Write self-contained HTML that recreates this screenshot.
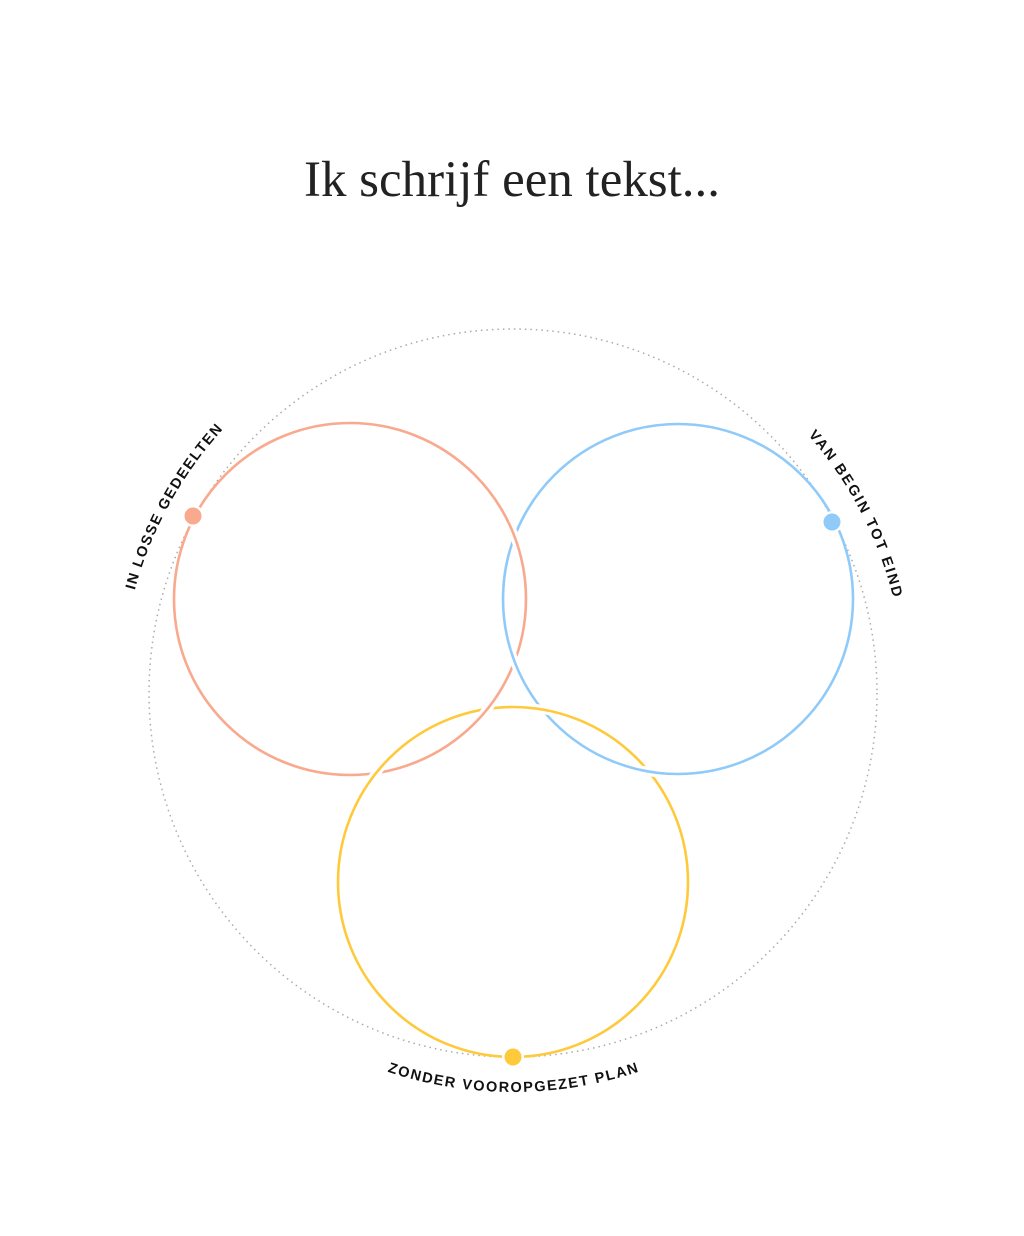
<!DOCTYPE html>
<html><head><meta charset="utf-8"><style>
html,body{margin:0;padding:0;background:#fff;}
svg{display:block}
</style></head><body>
<svg width="1024" height="1236" viewBox="0 0 1024 1236" xmlns="http://www.w3.org/2000/svg">
<defs>
<path id="pl" d="M 121 693 A 392 392 0 0 1 513 301"/>
<path id="pr" d="M 513 301 A 392 392 0 0 1 905 693"/>
<path id="pb" d="M 114 693 A 399 399 0 0 0 912 693"/>
<clipPath id="c1"><circle cx="514" cy="535" r="13"/></clipPath>
<clipPath id="c2"><circle cx="514" cy="663" r="13"/></clipPath>
<clipPath id="c3"><circle cx="488" cy="708" r="13"/></clipPath>
<clipPath id="c4"><circle cx="375" cy="773" r="13"/></clipPath>
<clipPath id="c5"><circle cx="538" cy="708" r="13"/></clipPath>
<clipPath id="c6"><circle cx="652" cy="773" r="13"/></clipPath>
</defs>
<text x="512" y="196" text-anchor="middle" font-family="Liberation Serif, serif" font-size="51" fill="#222" textLength="416" lengthAdjust="spacingAndGlyphs">Ik schrijf een tekst...</text>
<circle cx="513" cy="693" r="364" fill="none" stroke="#aaa" stroke-width="1.5" stroke-dasharray="1.5 4"/>
<g fill="none" stroke-width="2.6">
<circle cx="350" cy="599" r="176" stroke="#F9A98E"/>
<circle cx="678" cy="599" r="175" stroke="#90CAF9"/>
<circle cx="513" cy="882" r="175" stroke="#FFC93C"/>
<g clip-path="url(#c1)"><circle cx="350" cy="599" r="176" stroke="#fff" stroke-width="9"/><circle cx="350" cy="599" r="176" stroke="#F9A98E"/></g>
<g clip-path="url(#c2)"><circle cx="678" cy="599" r="175" stroke="#fff" stroke-width="9"/><circle cx="678" cy="599" r="175" stroke="#90CAF9"/></g>
<g clip-path="url(#c3)"><circle cx="350" cy="599" r="176" stroke="#fff" stroke-width="9"/><circle cx="350" cy="599" r="176" stroke="#F9A98E"/></g>
<g clip-path="url(#c4)"><circle cx="513" cy="882" r="175" stroke="#fff" stroke-width="9"/><circle cx="513" cy="882" r="175" stroke="#FFC93C"/></g>
<g clip-path="url(#c5)"><circle cx="513" cy="882" r="175" stroke="#fff" stroke-width="9"/><circle cx="513" cy="882" r="175" stroke="#FFC93C"/></g>
<g clip-path="url(#c6)"><circle cx="678" cy="599" r="175" stroke="#fff" stroke-width="9"/><circle cx="678" cy="599" r="175" stroke="#90CAF9"/></g>
</g>
<circle cx="193" cy="516" r="11" fill="#fff"/><circle cx="193" cy="516" r="8.5" fill="#F9A98E"/>
<circle cx="832" cy="522" r="11" fill="#fff"/><circle cx="832" cy="522" r="8.5" fill="#90CAF9"/>
<circle cx="513" cy="1057" r="11" fill="#fff"/><circle cx="513" cy="1057" r="8.5" fill="#FFC93C"/>
<g font-family="Liberation Sans, sans-serif" font-size="14.5" font-weight="bold" fill="#111">
<text><textPath href="#pl" startOffset="104" textLength="185" lengthAdjust="spacing">IN LOSSE GEDEELTEN</textPath></text>
<text><textPath href="#pr" startOffset="334" textLength="185" lengthAdjust="spacing">VAN BEGIN TOT EIND</textPath></text>
<text><textPath href="#pb" startOffset="50%" text-anchor="middle" textLength="256" lengthAdjust="spacing">ZONDER VOOROPGEZET PLAN</textPath></text>
</g>
</svg>
</body></html>
